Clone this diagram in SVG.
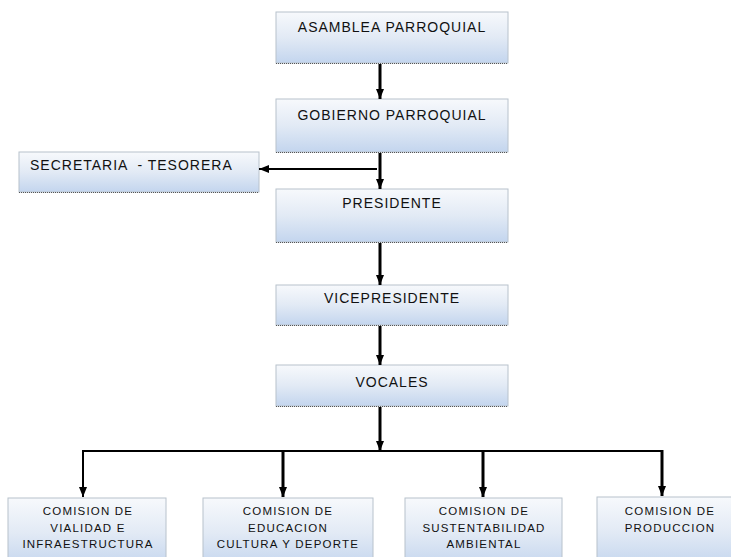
<svg xmlns="http://www.w3.org/2000/svg" width="731" height="557" viewBox="0 0 731 557">
<defs>
<linearGradient id="g" x1="0" y1="0" x2="0" y2="1">
<stop offset="0" stop-color="#f7f9fc"/>
<stop offset="0.5" stop-color="#e2eaf5"/>
<stop offset="1" stop-color="#c3d5ee"/>
</linearGradient>
<marker id="ah" markerUnits="userSpaceOnUse" markerWidth="10" markerHeight="10" viewBox="0 0 10 10" refX="10" refY="5" orient="auto">
<path d="M0,1 L10,5 L0,9 Z" fill="#000"/>
</marker>
<style>
.box{fill:url(#g);stroke:#b8c2cc;stroke-width:1}
.sh{stroke:#555;stroke-width:1.2;stroke-dasharray:1 1}
.t{font-family:"Liberation Sans",Arial,sans-serif;font-size:14px;letter-spacing:1px;fill:#111;text-anchor:middle}
.s{font-family:"Liberation Sans",Arial,sans-serif;font-size:11.5px;letter-spacing:1.2px;fill:#111;text-anchor:middle}
.c{stroke:#000;fill:none}
</style>
</defs>
<rect width="731" height="557" fill="#fff"/>
<g id="asamblea">
<rect class="box" x="276" y="12" width="232" height="51"/>
<line class="sh" x1="276" y1="63.5" x2="508" y2="63.5"/>
<text class="t" x="392" y="32">ASAMBLEA PARROQUIAL</text>
</g>
<g id="gobierno">
<rect class="box" x="276" y="99" width="232" height="53"/>
<line class="sh" x1="276" y1="152.5" x2="508" y2="152.5"/>
<text class="t" x="392" y="120">GOBIERNO PARROQUIAL</text>
</g>
<g id="secretaria">
<rect class="box" x="19" y="152" width="240" height="40"/>
<line class="sh" x1="19" y1="192.5" x2="259" y2="192.5"/>
<text class="t" x="30" y="170" style="text-anchor:start;white-space:pre">SECRETARIA  - TESORERA</text>
</g>
<g id="presidente">
<rect class="box" x="276" y="189" width="232" height="53"/>
<line class="sh" x1="276" y1="242.5" x2="508" y2="242.5"/>
<text class="t" x="392" y="208">PRESIDENTE</text>
</g>
<g id="vicepresidente">
<rect class="box" x="276" y="285" width="232" height="40"/>
<line class="sh" x1="276" y1="325.5" x2="508" y2="325.5"/>
<text class="t" x="392" y="303">VICEPRESIDENTE</text>
</g>
<g id="vocales">
<rect class="box" x="276" y="365" width="232" height="41"/>
<line class="sh" x1="276" y1="406.5" x2="508" y2="406.5"/>
<text class="t" x="392" y="387">VOCALES</text>
</g>
<g id="vialidad">
<rect class="box" x="8" y="498" width="158" height="70"/>
<text class="s" x="88" y="515">COMISION DE</text>
<text class="s" x="88" y="532">VIALIDAD E</text>
<text class="s" x="88" y="548">INFRAESTRUCTURA</text>
</g>
<g id="educacion">
<rect class="box" x="203" y="498" width="170" height="70"/>
<text class="s" x="288" y="515">COMISION DE</text>
<text class="s" x="288" y="532">EDUCACION</text>
<text class="s" x="288" y="548">CULTURA Y DEPORTE</text>
</g>
<g id="sustentabilidad">
<rect class="box" x="405" y="498" width="157" height="70"/>
<text class="s" x="484" y="515">COMISION DE</text>
<text class="s" x="484" y="532">SUSTENTABILIDAD</text>
<text class="s" x="484" y="548">AMBIENTAL</text>
</g>
<g id="produccion">
<rect class="box" x="597" y="497" width="146" height="70"/>
<text class="s" x="670" y="515">COMISION DE</text>
<text class="s" x="670" y="532">PRODUCCION</text>
</g>
<g id="connectors">
<line class="c" x1="380" y1="64" x2="380" y2="99" stroke-width="3" marker-end="url(#ah)"/>
<line class="c" x1="380" y1="153" x2="380" y2="189" stroke-width="3" marker-end="url(#ah)"/>
<line class="c" x1="377" y1="169" x2="259" y2="169" stroke-width="2" marker-end="url(#ah)"/>
<line class="c" x1="380" y1="243" x2="380" y2="285" stroke-width="3" marker-end="url(#ah)"/>
<line class="c" x1="380" y1="326" x2="380" y2="365" stroke-width="3" marker-end="url(#ah)"/>
<line class="c" x1="380" y1="407" x2="380" y2="451" stroke-width="3" marker-end="url(#ah)"/>
<line class="c" x1="83" y1="451" x2="663" y2="451" stroke-width="2"/>
<line class="c" x1="83" y1="450" x2="83" y2="497" stroke-width="2" marker-end="url(#ah)"/>
<line class="c" x1="283" y1="451" x2="283" y2="497" stroke-width="3" marker-end="url(#ah)"/>
<line class="c" x1="483" y1="451" x2="483" y2="497" stroke-width="3" marker-end="url(#ah)"/>
<line class="c" x1="662" y1="450" x2="662" y2="496" stroke-width="3" marker-end="url(#ah)"/>
</g>
</svg>
